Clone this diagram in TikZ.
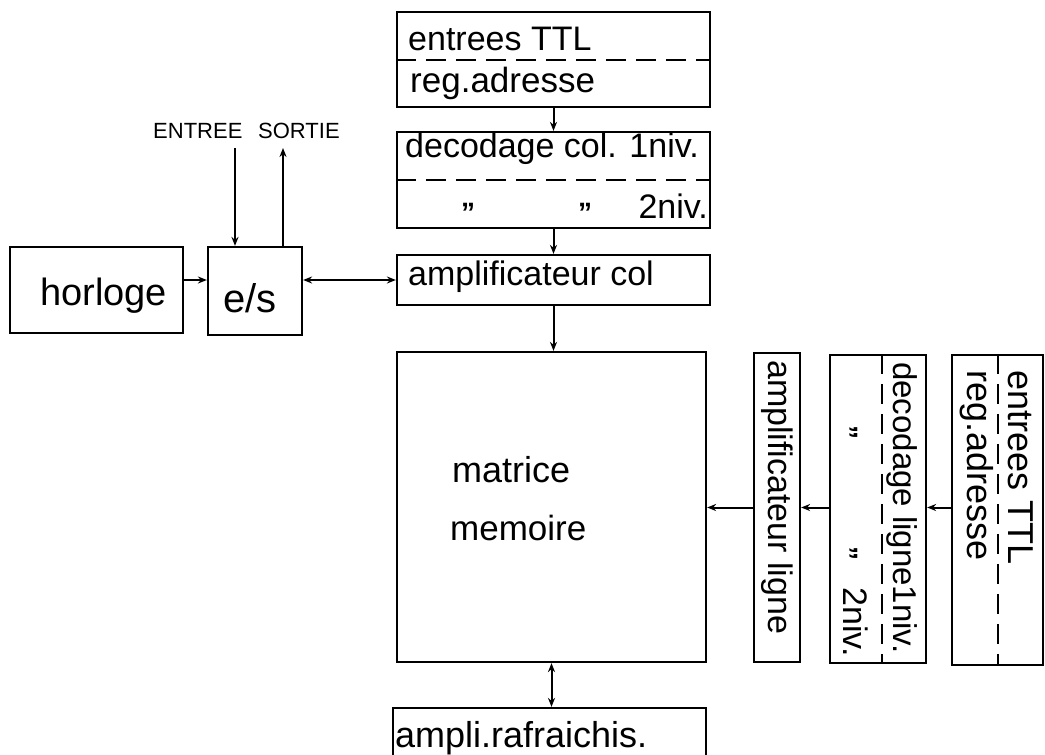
\documentclass[tikz,border=0pt]{standalone}
\usepackage{fontspec}
\setmainfont{Liberation Sans}
\usetikzlibrary{arrows.meta}

\tikzset{
  box/.style={draw, line width=2.2pt, inner sep=0pt},
  txt/.style={inner sep=0pt, font=\fontsize{#1}{#1}\selectfont},
  txt/.default=34,
  wire/.style={line width=2pt},
  div/.style={line width=2pt, dash pattern=on 20pt off 10pt},
  >={Stealth[length=9pt,width=7pt]}
}

\begin{document}
\begin{tikzpicture}[x=1pt,y=-1pt]
	\useasboundingbox (0,0) rectangle (1045,755);
	% boxes
	\node [box,minimum width=173pt,minimum height=86pt] (horloge) at (96.5,290) {};
	\node [box,minimum width=94pt,minimum height=88pt] (es) at (255,291) {};
	\node [box,minimum width=313pt,minimum height=95pt] (regcol) at (553.5,59.5) {};
	\node [box,minimum width=313pt,minimum height=96pt] (deccol) at (553.5,180) {};
	\node [box,minimum width=313pt,minimum height=50pt] (ampcol) at (553.5,280) {};
	\node [box,minimum width=309pt,minimum height=310pt] (matrice) at (551.5,507) {};
	\node [box,minimum width=313pt,minimum height=70pt] (rafr) at (549.5,743) {};
	\node [box,minimum width=46pt,minimum height=309pt] (ampl) at (777,507.5) {};
	\node [box,minimum width=96pt,minimum height=308pt] (decl) at (878,509) {};
	\node [box,minimum width=91pt,minimum height=310pt] (regl) at (997.5,510) {};
	\draw [div] (regcol.west) -- (regcol.east);
	\draw [div] (deccol.west) -- (deccol.east);
	\draw [div] ([xshift=4pt]decl.north) -- ([xshift=4pt]decl.south);
	\draw [div] (regl.north) -- (regl.south);
	% texts
	\node [txt=38,anchor=base west] (thorloge) at (40,305) {horloge};
	\node [txt=40,anchor=base west] (tes) at (223,312) {e/s};
	\node [txt=22,anchor=base west] (tentree) at (153,138) {ENTREE};
	\node [txt=22,anchor=base west] (tsortie) at (258,138) {SORTIE};
	\node [txt,anchor=base west] (tttl) at (408,50) {entrees TTL};
	\node [txt=35,anchor=base west] (tadr) at (410,92) {reg.adresse};
	\node [txt,anchor=base west] (tdeccol) at (405,157) {decodage col. 1niv.};
	\node [txt=28,anchor=base] (dita) at (468,222) {\textbf{''}};
	\node [txt=28,anchor=base] (ditb) at (585,222) {\textbf{''}};
	\node [txt,anchor=base east] (tniv) at (708,218) {2niv.};
	\node [txt,anchor=base west] (tampcol) at (408,285) {amplificateur col};
	\node [txt=36,anchor=base west] (tmat) at (452,482) {matrice};
	\node [txt=35,anchor=base west] (tmem) at (450,540) {memoire};
	\node [txt=36,anchor=base west] (trafr) at (395,747) {ampli.rafraichis.};
	\node [txt,rotate=-90,anchor=base west] (tampl) at (768,360) {amplificateur ligne};
	\node [txt=33,rotate=-90,anchor=base west] (tdecl) at (893,362) {decodage ligne1niv.};
	\node [txt=28,rotate=-90,anchor=base] (ditc) at (838,432) {\textbf{''}};
	\node [txt=28,rotate=-90,anchor=base] (ditd) at (838,553) {\textbf{''}};
	\node [txt,rotate=-90,anchor=base east] (tnivl) at (843,657) {2niv.};
	\node [txt=36,rotate=-90,anchor=base west] (tttll) at (1008,370) {entrees TTL};
	\node [txt=36,rotate=-90,anchor=base west] (tadrl) at (967,370) {reg.adresse};
	% connectors
	\coordinate (ein) at (235,148);
	\coordinate (sout) at (283,148);
	\draw [wire,->] (ein) -- (ein |- es.north);
	\draw [wire,->] (sout |- es.north) -- (sout);
	\draw [wire,->] (horloge.east |- ampcol) -- (es.west |- ampcol);
	\draw [wire,<->] (es.east |- ampcol) -- (ampcol.west);
	\draw [wire,->] (regcol.south) -- (deccol.north);
	\draw [wire,->] (deccol.south) -- (ampcol.north);
	\draw [wire,->] (ampcol.south) -- (ampcol.south |- matrice.north);
	\draw [wire,<->] (matrice.south) -- (matrice.south |- rafr.north);
	\draw [wire,->] (regl.west |- ampl) -- (decl.east |- ampl);
	\draw [wire,->] (decl.west |- ampl) -- (ampl.east);
	\draw [wire,->] (ampl.west) -- (ampl.west -| matrice.east);
\end{tikzpicture}
\end{document}
